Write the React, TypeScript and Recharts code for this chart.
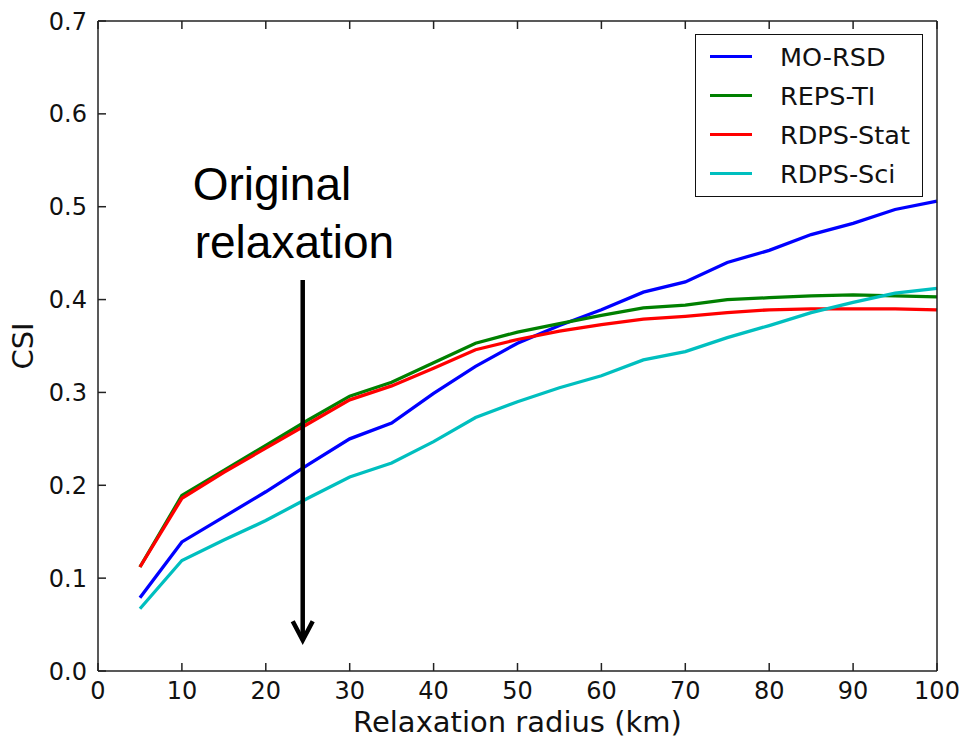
import React from 'react';
import { LineChart, Line, XAxis, YAxis, ReferenceLine, Label } from 'recharts';

const radius = [5, 10, 15, 20, 25, 30, 35, 40, 45, 50, 55, 60, 65, 70, 75, 80, 85, 90, 95, 100];
const moRsd = [0.079, 0.139, 0.166, 0.193, 0.222, 0.25, 0.267, 0.299, 0.328, 0.353, 0.372, 0.389, 0.408, 0.419, 0.44, 0.453, 0.47, 0.482, 0.497, 0.506];
const repsTi = [0.112, 0.189, 0.216, 0.243, 0.27, 0.296, 0.311, 0.332, 0.353, 0.365, 0.374, 0.383, 0.391, 0.394, 0.4, 0.402, 0.404, 0.405, 0.404, 0.403];
const rdpsStat = [0.112, 0.186, 0.214, 0.24, 0.266, 0.292, 0.307, 0.326, 0.346, 0.357, 0.366, 0.373, 0.379, 0.382, 0.386, 0.389, 0.39, 0.39, 0.39, 0.389];
const rdpsSci = [0.067, 0.119, 0.141, 0.162, 0.186, 0.209, 0.224, 0.247, 0.273, 0.29, 0.305, 0.318, 0.335, 0.344, 0.359, 0.372, 0.386, 0.397, 0.407, 0.412];

const xTicks = [0, 10, 20, 30, 40, 50, 60, 70, 80, 90, 100];
const yTicks = [0, 0.1, 0.2, 0.3, 0.4, 0.5, 0.6, 0.7];

const series = [
  { key: 'moRsd', name: 'MO-RSD', color: '#0000ff' },
  { key: 'repsTi', name: 'REPS-TI', color: '#008000' },
  { key: 'rdpsStat', name: 'RDPS-Stat', color: '#ff0000' },
  { key: 'rdpsSci', name: 'RDPS-Sci', color: '#00bfbf' },
];

const data = radius.map((r, i) => ({
  x: r,
  moRsd: moRsd[i],
  repsTi: repsTi[i],
  rdpsStat: rdpsStat[i],
  rdpsSci: rdpsSci[i],
}));

const FONT = "'DejaVu Sans', sans-serif";
const axisColor = '#222';
const noLabel = () => <g />;

// legend drawn as an overlay so it doesn't eat plot space
const LegendBox = () => (
  <div
    style={{
      position: 'absolute',
      left: 695,
      top: 34,
      border: '1.5px solid #111',
      background: '#fff',
      width: 228,
      height: 163,
      boxSizing: 'border-box',
      paddingTop: 2,
      fontFamily: FONT,
    }}
  >
    {series.map((s) => (
      <div key={s.key} style={{ display: 'flex', alignItems: 'center', height: 39 }}>
        <div style={{ marginLeft: 14, width: 42, height: 3, background: s.color }} />
        <span style={{ marginLeft: 28, fontSize: 25.5, color: '#111' }}>{s.name}</span>
      </div>
    ))}
  </div>
);

const Arrow = (props: any) => {
  const { x1, y1, x2, y2 } = props;
  return (
    <g>
      <text fontFamily="'Liberation Sans', Arial, sans-serif" fontSize={46} fill="#000">
        <tspan x={x1 - 110} y={y1 - 80}>Original</tspan>
        <tspan x={x1 - 108} y={y1 - 22}>relaxation</tspan>
      </text>
      <line x1={x1} y1={y1} x2={x2} y2={y2 - 2} stroke="#000" strokeWidth={4.5} />
      <polyline
        points={`${x2 - 10},${y2 - 21} ${x2},${y2 - 2} ${x2 + 10},${y2 - 21}`}
        fill="none"
        stroke="#000"
        strokeWidth={4.5}
      />
    </g>
  );
};

export default function App() {
  return (
    <div style={{ position: 'absolute', left: 0, top: 0, width: 960, height: 738, background: '#fff' }}>
      <LineChart
        width={960}
        height={738}
        data={data}
        margin={{ top: 20, right: 22, bottom: 0, left: 38 }}
        style={{ fontFamily: FONT }}
      >
        <XAxis
          dataKey="x"
          type="number"
          domain={[0, 100]}
          ticks={xTicks}
          interval={0}
          height={67}
          tickSize={-8}
          tickMargin={19}
          tick={{ fill: '#111', fontSize: 24, fontFamily: FONT }}
          stroke={axisColor}
          strokeWidth={1.5}
        >
          <Label
            value="Relaxation radius (km)"
            position="insideBottom"
            offset={6}
            style={{ fontSize: 29, fill: '#111', fontFamily: FONT }}
          />
        </XAxis>
        <XAxis
          xAxisId="top"
          orientation="top"
          dataKey="x"
          type="number"
          domain={[0, 100]}
          ticks={xTicks}
          interval={0}
          height={1}
          tickSize={-8}
          tick={noLabel}
          stroke={axisColor}
          strokeWidth={1.5}
        />
        <YAxis
          type="number"
          domain={[0, 0.7]}
          ticks={yTicks}
          interval={0}
          width={60}
          tickSize={-8}
          tickMargin={19}
          tickFormatter={(v: number) => v.toFixed(1)}
          tick={{ fill: '#111', fontSize: 24, fontFamily: FONT }}
          stroke={axisColor}
          strokeWidth={1.5}
        >
          <Label
            content={({ viewBox }: any) => (
              <text
                x={viewBox.x - 5}
                y={viewBox.y + viewBox.height / 2}
                transform={`rotate(-90, ${viewBox.x - 5}, ${viewBox.y + viewBox.height / 2})`}
                textAnchor="middle"
                fontSize={29}
                fill="#111"
                fontFamily={FONT}
              >
                CSI
              </text>
            )}
          />
        </YAxis>
        <YAxis
          yAxisId="right"
          orientation="right"
          type="number"
          domain={[0, 0.7]}
          ticks={yTicks}
          interval={0}
          width={1}
          tickSize={-8}
          tick={noLabel}
          stroke={axisColor}
          strokeWidth={1.5}
        />
        {series.map((s) => (
          <Line
            key={s.key}
            type="linear"
            dataKey={s.key}
            name={s.name}
            stroke={s.color}
            strokeWidth={3.3}
            dot={false}
            activeDot={false}
            isAnimationActive={false}
          />
        ))}
        <ReferenceLine
          segment={[
            { x: 24.4, y: 0.421 },
            { x: 24.4, y: 0.031 },
          ]}
          shape={Arrow}
          ifOverflow="visible"
        />
      </LineChart>
      <LegendBox />
    </div>
  );
}
